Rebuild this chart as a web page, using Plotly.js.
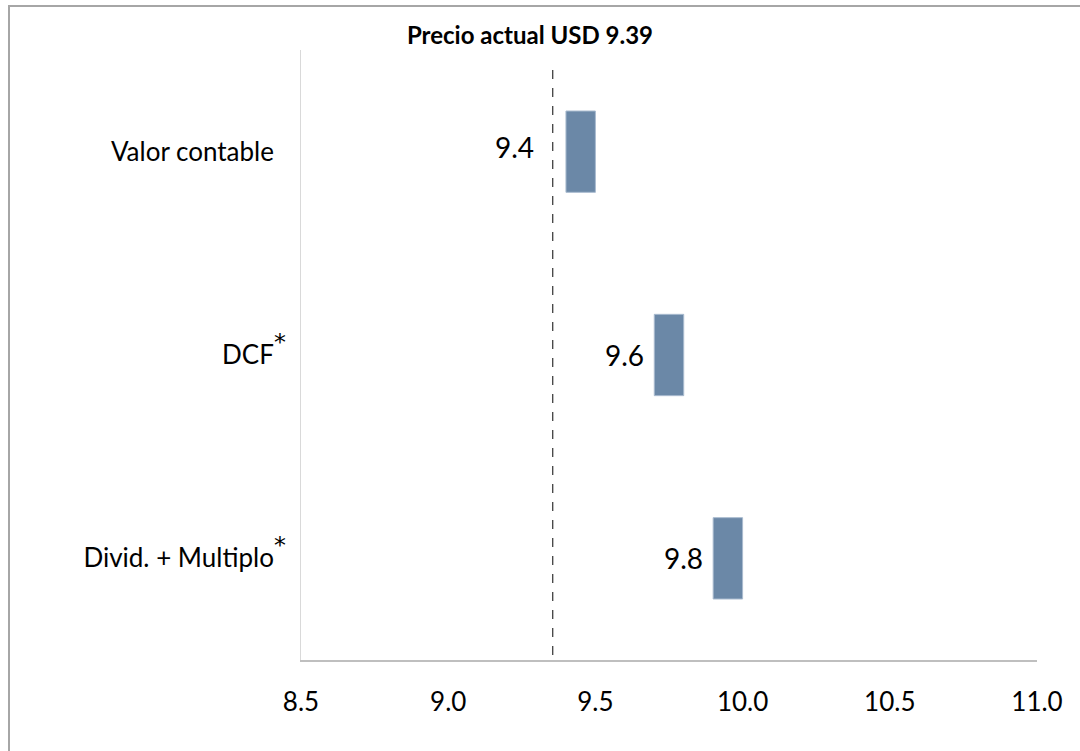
<!DOCTYPE html>
<html>
<head>
<meta charset="utf-8">
<script src="https://cdn.plot.ly/plotly-3.0.1.min.js"></script>
<style>
  html, body { margin: 0; padding: 0; background: #fff; }
  #wrap { position: relative; width: 1080px; height: 751px; overflow: hidden; }
  #frame { position: absolute; left: 8px; top: 5px; width: 1100px; height: 800px;
           border-top: 2px solid #a6a6a6; border-left: 2px solid #a6a6a6; box-sizing: border-box; }
  #chart { position: absolute; left: 0; top: 0; width: 1080px; height: 751px; }
</style>
</head>
<body>
<div id="wrap">
  <div id="frame"></div>
  <div id="chart"></div>
</div>
<script>
// Valuation methods and their estimated ranges (USD per share)
const methods = ["Valor contable", "DCF", "Divid. + Multiplo"];
const methodNote = [false, true, true];
const rangeLow = [9.4, 9.7, 9.9];
const rangeHigh = [9.5, 9.8, 10.0];
const valueLabels = [9.4, 9.6, 9.8];
const labelText = ["9.4", "9.6", "9.8"];
const priceTitle = "Precio actual USD 9.39";
const priceLine = 9.355;
const xTicks = [8.5, 9.0, 9.5, 10.0, 10.5, 11.0];
const xTickText = ["8.5", "9.0", "9.5", "10.0", "10.5", "11.0"];

const FONT = "Lato, 'Open Sans', sans-serif";

// footnote star, raised and near full size; unmarked rows get an invisible one to keep alignment
const starStyle = "font-size:34px;font-family:DejaVu Sans";
const star = "<span style='" + starStyle + "'><sup>*</sup></span>";
const ghost = "<span style='" + starStyle + ";color:rgba(0,0,0,0)'><sup>*</sup></span>";
const methodTicks = methods.map((m, i) => m + (methodNote[i] ? star : ghost));

const bars = {
  type: "bar",
  orientation: "h",
  y: methods,
  base: rangeLow,
  x: rangeHigh.map((h, i) => h - rangeLow[i]),
  width: 0.4,
  marker: { color: "#6b88a7", line: { color: "#a9bbcf", width: 1 } },
  hoverinfo: "skip",
  showlegend: false
};

// the first label sits left of the price line
const labelShift = [-51, 0, 0];
const labelAnn = valueLabels.map((v, i) => ({
  x: v, y: methods[i], xref: "x", yref: "y",
  text: labelText[i], showarrow: false,
  xanchor: "center", yanchor: "middle",
  xshift: labelShift[i], yshift: i === 0 ? 5 : 0,
  font: { family: FONT, size: 28, color: "#000" }
}));

const layout = {
  width: 1080, height: 751,
  margin: { l: 301, r: 43, t: 50, b: 91, pad: 0 },
  paper_bgcolor: "rgba(0,0,0,0)",
  plot_bgcolor: "rgba(0,0,0,0)",
  title: {
    text: "<b>" + priceTitle + "</b>",
    x: 530 / 1080, xanchor: "center", xref: "container",
    y: 1 - 36 / 751, yanchor: "middle", yref: "container",
    font: { family: FONT, size: 24, color: "#000" }
  },
  xaxis: {
    range: [8.5, 11.0],
    tickvals: xTicks, ticktext: xTickText,
    showgrid: false, zeroline: false,
    showline: true, linecolor: "#bfbfbf", linewidth: 2,
    ticks: "", ticklabelstandoff: 18,
    tickfont: { family: FONT, size: 26, color: "#000" },
    fixedrange: true
  },
  yaxis: {
    type: "category",
    autorange: "reversed",
    tickvals: methods, ticktext: methodTicks,
    showgrid: false, zeroline: false,
    showline: true, linecolor: "#d9d9d9", linewidth: 1,
    ticks: "", ticklabelstandoff: 9,
    tickfont: { family: FONT, size: 26, color: "#000" },
    fixedrange: true
  },
  shapes: [{
    type: "line", xref: "x", yref: "paper",
    x0: priceLine, x1: priceLine, y0: 0.008, y1: 0.975,
    line: { color: "#404040", width: 1.3, dash: "dash" }
  }],
  annotations: labelAnn
};

Plotly.newPlot("chart", [bars], layout, { displayModeBar: false, staticPlot: true });
</script>
</body>
</html>
